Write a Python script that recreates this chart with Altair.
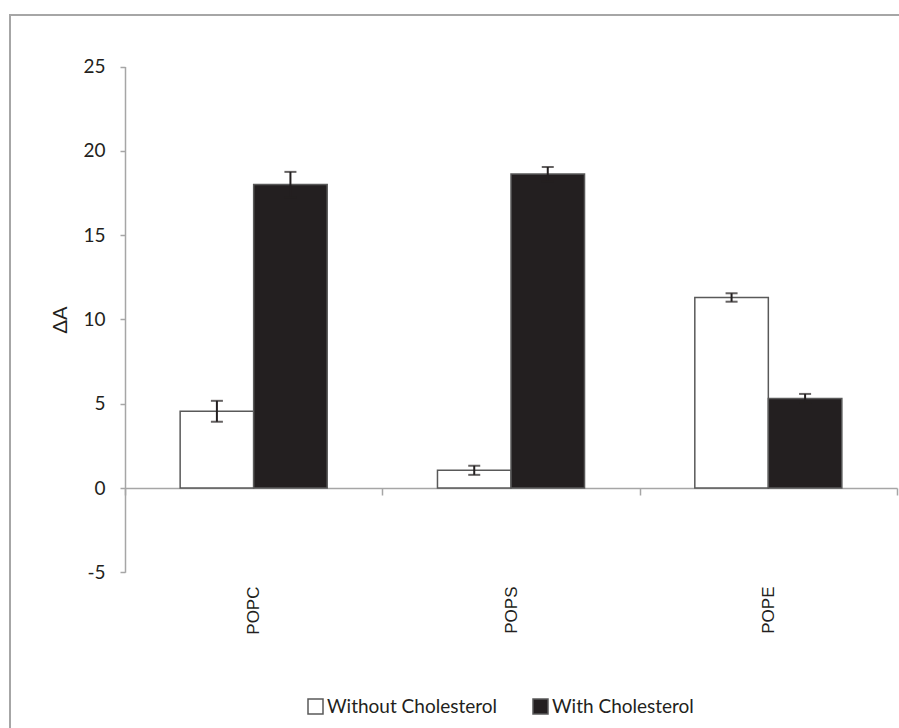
import altair as alt
import pandas as pd

# Lipid composition on the x axis, two series per group
categories = ["POPC", "POPS", "POPE"]
series = ["Without Cholesterol", "With Cholesterol"]
without_chol = [4.55, 1.05, 11.3]
without_err = [0.62, 0.27, 0.25]
with_chol = [18.0, 18.62, 5.31]
with_err = [0.75, 0.42, 0.27]
y_ticks = [-5, 0, 5, 10, 15, 20, 25]

rows = []
for i, lipid in enumerate(categories):
    rows.append({"lipid": lipid, "series": series[0],
                 "value": without_chol[i], "err": without_err[i]})
    rows.append({"lipid": lipid, "series": series[1],
                 "value": with_chol[i], "err": with_err[i]})
df = pd.DataFrame(rows)

# Frame / plot-region geometry (view coordinates)
W, H = 889, 713
X_RANGE = [115, 887]
Y_RANGE = [557.3, 51.5]
AXIS_GRAY = "#a6a6a6"
INK = "#231f20"

x_enc = alt.X(
    "lipid:N",
    sort=categories,
    scale=alt.Scale(range=X_RANGE, paddingInner=0, paddingOuter=0),
    axis=alt.Axis(
        title=None,
        orient="bottom",
        offset=-240,
        tickBand="extent",
        tickSize=7,
        tickColor=AXIS_GRAY,
        tickWidth=1.5,
        domainColor=AXIS_GRAY,
        domainWidth=1.5,
        labelAngle=-90,
        labelPadding=91,
        labelFont="Liberation Sans",
        labelFontSize=17,
        labelColor=INK,
        grid=False,
    ),
)
xoff_enc = alt.XOffset(
    "series:N", sort=series,
    scale=alt.Scale(paddingOuter=0.75, paddingInner=0),
)
y_scale = alt.Scale(domain=[-5, 25], range=Y_RANGE, nice=False, zero=False)

base = alt.Chart(df).transform_calculate(
    lo="datum.value - datum.err", hi="datum.value + datum.err"
)

bars = base.mark_bar(stroke="#595959", strokeWidth=1.5).encode(
    x=x_enc,
    xOffset=xoff_enc,
    y=alt.Y(
        "value:Q",
        scale=y_scale,
        axis=alt.Axis(
            title="ΔA",
            values=y_ticks,
            labelExpr="'' + datum.value",
            offset=-115,
            tickSize=5,
            tickColor=AXIS_GRAY,
            tickWidth=1.5,
            domainColor=AXIS_GRAY,
            domainWidth=1.5,
            labelPadding=15,
            labelFont="Lato",
            labelFontSize=19,
            labelColor=INK,
            titleFont="Lato",
            titleFontSize=20,
            titleFontWeight="normal",
            titleColor=INK,
            titlePadding=12,
            grid=False,
        ),
    ),
    color=alt.Color(
        "series:N",
        sort=series,
        scale=alt.Scale(domain=series, range=["#ffffff", INK]),
        legend=alt.Legend(
            title=None,
            orient="none",
            legendX=296,
            legendY=682,
            direction="horizontal",
            symbolType="square",
            symbolSize=225,
            symbolStrokeColor="#595959",
            symbolStrokeWidth=1.5,
            symbolOpacity=1,
            labelFont="Lato",
            labelFontSize=19,
            labelColor=INK,
            labelLimit=400,
            labelOffset=2,
            columnPadding=32,
        ),
    ),
)

err_line = base.mark_rule(color=INK, strokeWidth=2).encode(
    x=alt.X("lipid:N", sort=categories),
    xOffset=alt.XOffset("series:N", sort=series),
    y=alt.Y("lo:Q", scale=y_scale),
    y2="hi:Q",
)
err_top = base.mark_tick(color=INK, size=12, thickness=2).encode(
    x=alt.X("lipid:N", sort=categories),
    xOffset=alt.XOffset("series:N", sort=series),
    y=alt.Y("hi:Q", scale=y_scale),
)
err_bottom = base.mark_tick(color=INK, size=12, thickness=2).encode(
    x=alt.X("lipid:N", sort=categories),
    xOffset=alt.XOffset("series:N", sort=series),
    y=alt.Y("lo:Q", scale=y_scale),
)

chart = (
    alt.layer(bars, err_line, err_top, err_bottom)
    .properties(
        width=W,
        height=H,
        autosize=alt.AutoSizeParams(type="none"),
        padding={"left": 10, "top": 15, "right": 0, "bottom": 0},
        background="#ffffff",
    )
    .configure_view(stroke=AXIS_GRAY, strokeWidth=2, strokeDash=[W, W + H])
)

chart.save("out.html", embed_options={"renderer": "svg", "actions": False})
